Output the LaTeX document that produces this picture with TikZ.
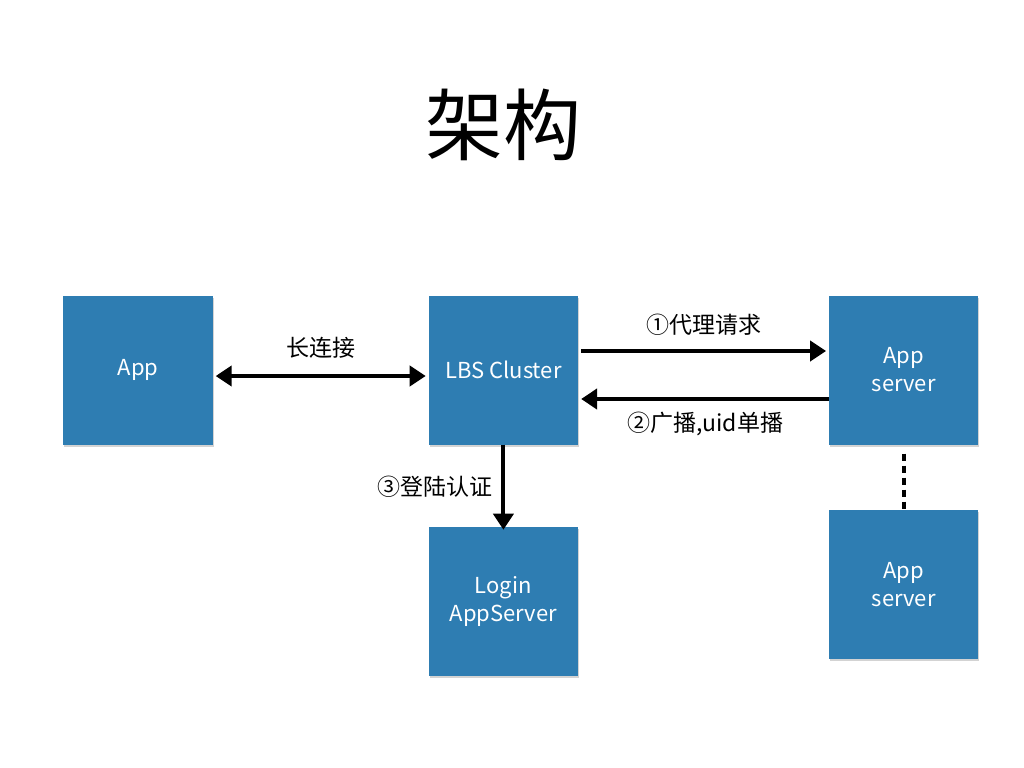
\documentclass[tikz,border=0pt]{standalone}
\usepackage{fontspec}
\setmainfont{Noto Sans CJK SC}
\newfontfamily\cjk{Noto Sans CJK SC}
\usetikzlibrary{positioning, arrows.meta, shadows}
\definecolor{boxblue}{RGB}{46,125,178}

\begin{document}
\begin{tikzpicture}[>=Triangle, x=1bp, y=-1bp,
  box/.style={draw=none, fill=boxblue, minimum size=149bp, inner sep=0pt,
    text=white, font=\cjk\fontsize{22bp}{28bp}\selectfont, align=center,
    drop shadow={opacity=0.35, shadow xshift=1bp, shadow yshift=-2bp}},
  link/.style={line width=4bp, {Triangle[length=16bp, width=20bp]}-{Triangle[length=16bp, width=20bp]}},
  arr/.style={line width=4bp, -{Triangle[length=16bp, width=20bp]}},
  lbl/.style={font=\cjk\fontsize{23bp}{26bp}\selectfont}]
  \useasboundingbox (0,0) rectangle (1024,768);

  % Title
  \node[font=\cjk\fontsize{78bp}{86bp}\selectfont] (title) at (503,125) {架构};

  % Boxes
  \node[box] (app) at (138,370) {App};
  \node[box, right=216bp of app] (lbs) {LBS Cluster};
  \node[box, right=251bp of lbs] (srv1) {App\\server};
  \node[box, below=65bp of srv1] (srv2) {App\\server};
  \node[box, below=82bp of lbs] (login) {Login\\AppServer};

  % Connections
  \draw[link] ([xshift=3bp, yshift=-6bp]app.east) -- ([xshift=-3bp, yshift=-6bp]lbs.west)
    node[midway, above=12bp, lbl] {长连接};
  \draw[arr] ([xshift=3bp, yshift=19bp]lbs.east) -- ([xshift=-3bp, yshift=19bp]srv1.west)
    node[midway, above=10bp, lbl] {①代理请求};
  \draw[arr] ([yshift=-29bp]srv1.west) -- ([xshift=3bp, yshift=-29bp]lbs.east)
    node[midway, below=8bp, lbl] {②广播,uid单播};
  \draw[arr] (lbs.south) -- ([yshift=-3bp]login.north)
    node[midway, left=6bp, lbl] {③登陆认证};
  \draw[line width=4bp, dash pattern=on 7bp off 5bp] ([yshift=-9bp]srv1.south) -- ([yshift=1bp]srv2.north);
\end{tikzpicture}
\end{document}
